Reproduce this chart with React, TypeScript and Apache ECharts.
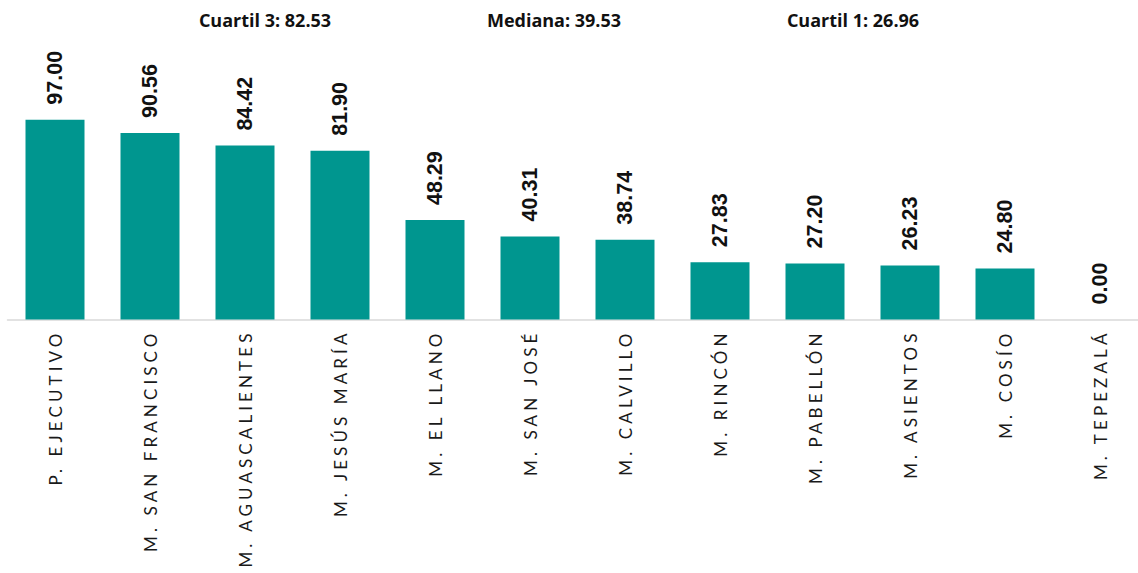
import React, { useEffect, useRef } from "react";
import * as echarts from "echarts";

const categories = [
  "P. EJECUTIVO",
  "M. SAN FRANCISCO",
  "M. AGUASCALIENTES",
  "M. JESÚS MARÍA",
  "M. EL LLANO",
  "M. SAN JOSÉ",
  "M. CALVILLO",
  "M. RINCÓN",
  "M. PABELLÓN",
  "M. ASIENTOS",
  "M. COSÍO",
  "M. TEPEZALÁ",
];
const values = [97.0, 90.56, 84.42, 81.9, 48.29, 40.31, 38.74, 27.83, 27.2, 26.23, 24.8, 0.0];
const statNames = ["Cuartil 3", "Mediana", "Cuartil 1"];
const statValues = [82.53, 39.53, 26.96];
const statX = [265, 554, 853];

export default function App() {
  const ref = useRef<HTMLDivElement>(null);
  useEffect(() => {
    if (!ref.current) return;
    const chart = echarts.init(ref.current, undefined, { renderer: "svg" });
    chart.setOption({
      animation: false,
      backgroundColor: "#ffffff",
      grid: { left: 7.5, top: 113.5, width: 1140, height: 206, containLabel: false },
      xAxis: {
        type: "category",
        data: categories,
        axisLine: { show: true, lineStyle: { color: "#d9d9d9", width: 1.5 } },
        axisTick: { show: false },
        axisLabel: {
          interval: 0,
          rotate: 90,
          margin: 10,
          fontFamily: "Lato",
          fontSize: 17,
          color: "#1a1a1a",
        },
      },
      yAxis: { type: "value", min: 0, max: 100, show: false, splitLine: { show: false } },
      series: [
        {
          type: "bar",
          data: values,
          barWidth: 59,
          itemStyle: { color: "#00968f" },
          label: {
            show: true,
            position: "top",
            distance: 15,
            rotate: 90,
            align: "left",
            verticalAlign: "middle",
            formatter: (p: any) => Number(p.value).toFixed(2),
            fontFamily: "Liberation Sans",
            fontWeight: "bold",
            fontSize: 21.5,
            color: "#111111",
          },
        },
      ],
      graphic: statNames.map((n, i) => ({
        type: "text",
        x: statX[i],
        y: 20,
        style: {
          text: `${n}: ${statValues[i].toFixed(2)}`,
          fontFamily: "Open Sans",
          fontWeight: "bold",
          fontSize: 18,
          fill: "#111111",
          align: "center",
          verticalAlign: "middle",
        },
      })),
    });
    return () => chart.dispose();
  }, []);
  return (
    <>
      <style>{`.chart-root text[style*="Lato"] { letter-spacing: 4.1px; }`}</style>
      <div
        ref={ref}
        className="chart-root"
        style={{ position: "fixed", left: 0, top: 0, width: 1150, height: 573 }}
      />
    </>
  );
}
